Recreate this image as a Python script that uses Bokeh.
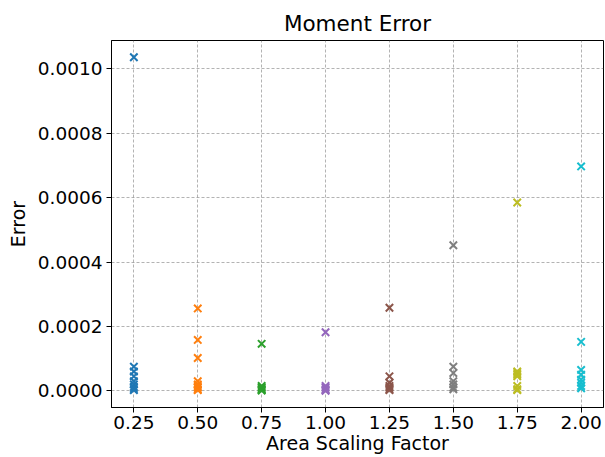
from bokeh.plotting import figure
from bokeh.models import FixedTicker, PrintfTickFormatter, Range1d
from bokeh.embed import file_html
from bokeh.resources import INLINE

factors = [0.25, 0.50, 0.75, 1.00, 1.25, 1.50, 1.75, 2.00]
colors = ["#1f77b4", "#ff7f0e", "#2ca02c", "#9467bd", "#8c564b", "#7f7f7f", "#bcbd22", "#17becf"]

err_025 = [1.036e-3, 7.5e-5, 6e-5, 4.5e-5, 3e-5, 2e-5, 1.2e-5, 6e-6, 2e-6]
err_050 = [2.56e-4, 1.58e-4, 1.02e-4, 3e-5, 2e-5, 1.5e-5, 1e-5, 5e-6, 2e-6]
err_075 = [1.46e-4, 1.5e-5, 1e-5, 6e-6, 3e-6, 1e-6]
err_100 = [1.82e-4, 1.5e-5, 1e-5, 5e-6, 2e-6, 0.0]
err_125 = [2.58e-4, 4.5e-5, 2.5e-5, 1.5e-5, 1e-5, 5e-6, 2e-6]
err_150 = [4.52e-4, 7.5e-5, 5.5e-5, 3e-5, 2e-5, 1e-5, 5e-6]
err_175 = [5.85e-4, 6e-5, 5.5e-5, 5e-5, 4.5e-5, 1.5e-5, 5e-6, 2e-6]
err_200 = [6.97e-4, 1.52e-4, 6.5e-5, 5e-5, 3.5e-5, 2.5e-5, 1.5e-5, 8e-6]
errors = [err_025, err_050, err_075, err_100, err_125, err_150, err_175, err_200]

y_ticks = [0.0, 0.0002, 0.0004, 0.0006, 0.0008, 0.0010]

p = figure(width=605, height=457, output_backend="svg", toolbar_location=None,
           title="Moment Error",
           x_range=Range1d(0.1625, 2.0875), y_range=Range1d(-0.0000518, 0.001088),
           min_border_left=111, min_border_right=2, min_border_top=40, min_border_bottom=50)

for f, c, errs in zip(factors, colors, errors):
    p.scatter([f] * len(errs), errs, marker="x", size=10.5, line_width=2, line_color=c)

p.title.align = "center"
p.title.text_font = "DejaVu Sans"
p.title.text_font_size = "21.5px"
p.title.text_font_style = "normal"
p.title.text_color = "black"
p.title.offset = 0

p.xaxis.axis_label = "Area Scaling Factor"
p.yaxis.axis_label = "Error"
for ax in (p.xaxis, p.yaxis):
    ax.axis_label_text_font = "DejaVu Sans"
    ax.axis_label_text_font_size = "19px"
    ax.axis_label_text_font_style = "normal"
    ax.axis_label_text_color = "black"
    ax.major_label_text_font = "DejaVu Sans"
    ax.major_label_text_font_size = "18.5px"
    ax.major_label_text_color = "black"
    ax.axis_line_color = "black"
    ax.major_tick_line_color = "black"
    ax.major_tick_out = 5
    ax.major_tick_in = 0
    ax.minor_tick_line_color = None
p.xaxis.axis_label_standoff = 0
p.xaxis.major_label_standoff = 3
p.yaxis.axis_label_standoff = 6
p.yaxis.major_label_standoff = 4

p.xaxis.ticker = FixedTicker(ticks=factors)
p.xaxis.formatter = PrintfTickFormatter(format="%.2f")
p.yaxis.ticker = FixedTicker(ticks=y_ticks)
p.yaxis.formatter = PrintfTickFormatter(format="%.4f")

p.grid.grid_line_color = "#808080"
p.grid.grid_line_dash = "3 2"
p.grid.grid_line_width = 0.6
p.outline_line_color = "black"
p.outline_line_width = 1
p.background_fill_color = "white"
p.border_fill_color = "white"

open("out.html", "w").write(file_html(p, INLINE))
